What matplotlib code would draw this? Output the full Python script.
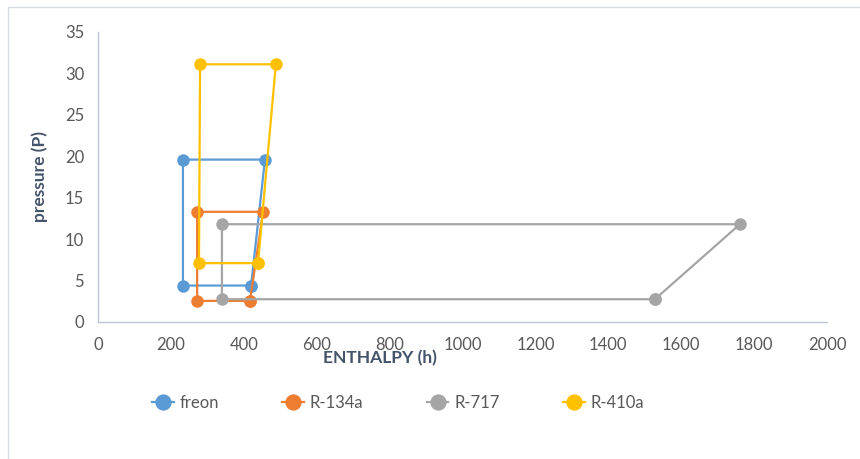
import matplotlib
matplotlib.use("Agg")
import matplotlib.pyplot as plt
from matplotlib.patches import Rectangle

plt.rcParams['font.family'] = ['Lato', 'DejaVu Sans']

# P-h cycle points (enthalpy, pressure), closed loop
freon_h = [420, 458, 233, 233, 420]
freon_p = [4.4, 19.6, 19.6, 4.4, 4.4]

r134a_h = [417, 453, 272, 272, 417]
r134a_p = [2.55, 13.3, 13.3, 2.55, 2.55]

r717_h = [1528, 1761, 340, 340, 1528]
r717_p = [2.75, 11.8, 11.8, 2.75, 2.75]

r410a_h = [439, 488, 280, 277, 439]
r410a_p = [7.1, 31.1, 31.1, 7.1, 7.1]

series = [
    ("freon", freon_h, freon_p, "#5B9BD5"),
    ("R-134a", r134a_h, r134a_p, "#ED7D31"),
    ("R-717", r717_h, r717_p, "#A5A5A5"),
    ("R-410a", r410a_h, r410a_p, "#FFC000"),
]

x_ticks = [0, 200, 400, 600, 800, 1000, 1200, 1400, 1600, 1800, 2000]
y_ticks = [0, 5, 10, 15, 20, 25, 30, 35]

tick_color = "#595959"
label_color = "#44546A"
spine_color = "#BFC6D4"

fig = plt.figure(figsize=(8.6, 4.59), dpi=100)
fig.patches.append(Rectangle((8 / 860, -0.1), 1.2, 1 - 7 / 459 + 0.1,
                             transform=fig.transFigure, fill=False,
                             edgecolor="#D9DCE3", linewidth=1.0))

ax = fig.add_axes([98 / 860, 1 - 322 / 459, 729 / 860, 290 / 459])

handles = []
for name, h, p, c in series:
    line, = ax.plot(h, p, "-", color=c, linewidth=1.6, marker="o",
                    markersize=9, markeredgewidth=0, label=name,
                    solid_joinstyle="round")
    handles.append(line)

ax.set_xlim(0, 2000)
ax.set_ylim(0, 35)
ax.set_xticks(x_ticks)
ax.set_yticks(y_ticks)
ax.tick_params(length=0, labelsize=12, colors=tick_color)
ax.tick_params(axis="x", pad=11)
ax.tick_params(axis="y", pad=10)
for side in ("top", "right"):
    ax.spines[side].set_visible(False)
for side in ("left", "bottom"):
    ax.spines[side].set_color(spine_color)
    ax.spines[side].set_linewidth(1.0)

ax.set_ylabel("pressure (P)", fontsize=12.5, fontweight="bold",
              color=label_color, labelpad=12)
fig.text(380 / 860, 1 - 358 / 459, "ENTHALPY (h)", fontsize=12.5,
         fontweight="bold", color=label_color, ha="center", va="center")

leg = fig.legend(handles=handles, loc="center", ncol=4,
                 bbox_to_anchor=(398 / 860, 1 - 403 / 459),
                 frameon=False, fontsize=12, handlelength=1.3,
                 columnspacing=3.8, handletextpad=0.35, markerscale=1.3)
for t in leg.get_texts():
    t.set_color(tick_color)

fig.savefig("out.png", dpi=100)
